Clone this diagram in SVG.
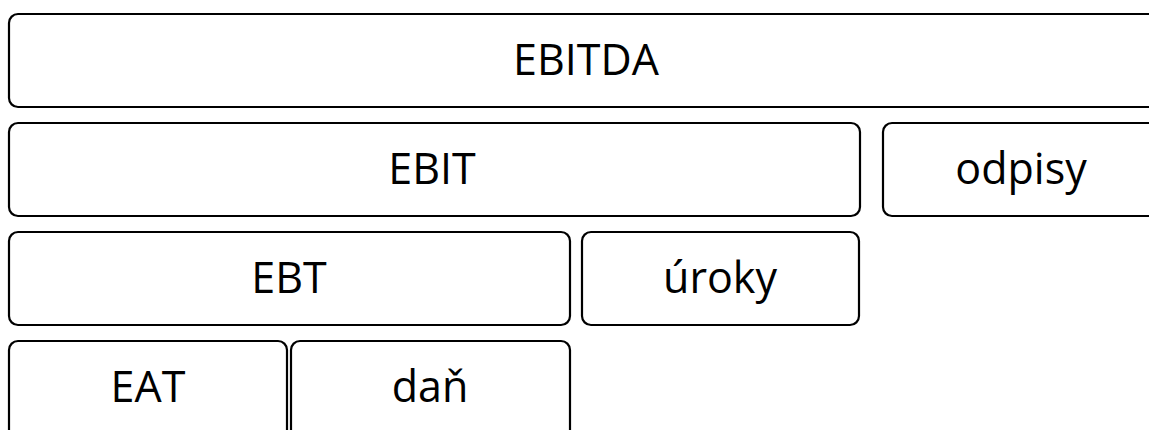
<svg xmlns="http://www.w3.org/2000/svg" width="1149" height="430" viewBox="0 0 1149 430">
<style>
.box{fill:#fff;stroke:#000;stroke-width:2.2}
.lbl{font-family:"Open Sans","Noto Sans","Liberation Sans",sans-serif;font-size:43px;fill:#000;text-anchor:middle;dominant-baseline:central}
</style>
<rect width="1149" height="430" fill="#fff"/>
<g id="ebitda"><rect class="box" x="9" y="14" width="1156" height="93" rx="9"/><text class="lbl" x="586" y="58">EBITDA</text></g>
<g id="ebit"><rect class="box" x="9" y="123" width="851" height="93" rx="9"/><text class="lbl" x="432" y="167">EBIT</text></g>
<g id="odpisy"><rect class="box" x="883" y="123" width="280" height="93" rx="9"/><text class="lbl" x="1021" y="167">odpisy</text></g>
<g id="ebt"><rect class="box" x="9" y="232" width="561" height="93" rx="9"/><text class="lbl" x="289" y="276">EBT</text></g>
<g id="uroky"><rect class="box" x="582" y="232" width="277" height="93" rx="9"/><text class="lbl" x="720" y="276">úroky</text></g>
<g id="eat"><rect class="box" x="9" y="341" width="278" height="100" rx="9"/><text class="lbl" x="148" y="385">EAT</text></g>
<g id="dan"><rect class="box" x="291" y="341" width="279" height="100" rx="9"/><text class="lbl" x="430" y="385">daň</text></g>
<g id="connectors"/>
</svg>
